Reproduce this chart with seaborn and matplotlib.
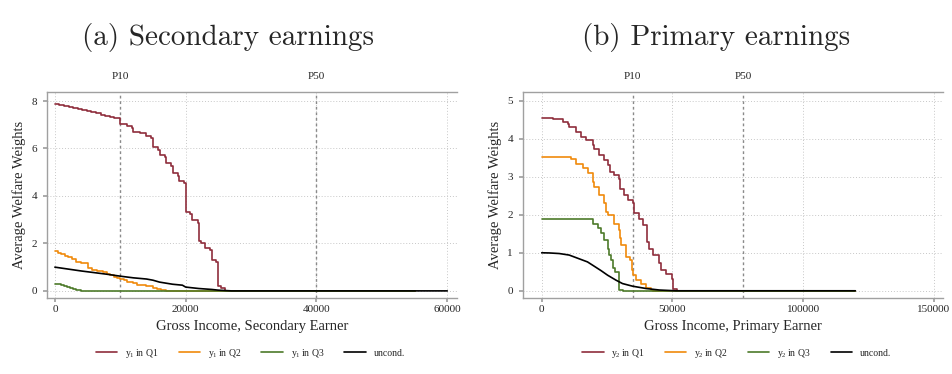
import pandas as pd
import seaborn as sns
import matplotlib.pyplot as plt
from matplotlib.lines import Line2D

# Panel (a): secondary earnings
sec_q1_x = [0, 700, 1400, 2100, 2800, 3500, 4200, 4900, 5600, 6300, 7000, 7700, 8400, 9100, 9900,
            10000, 11000, 11800, 12000, 13000, 14000,
            14700, 15000, 15800, 16000, 16800, 17000, 17800, 18000, 18800, 19000, 19800, 20000,
            20700, 21000, 21900, 22000, 22400, 22900, 23700, 24000, 24700, 25000, 25400, 26000, 55000]
sec_q1_y = [7.87, 7.83, 7.79, 7.74, 7.7, 7.66, 7.62, 7.57, 7.52, 7.48, 7.43, 7.38, 7.33, 7.27, 7.2,
            7.03, 6.95, 6.86, 6.7, 6.64, 6.53,
            6.43, 6.05, 5.94, 5.72, 5.63, 5.37, 5.26, 4.95, 4.85, 4.64, 4.56, 3.33,
            3.26, 3.0, 2.87, 2.11, 2.0, 1.79, 1.74, 1.29, 1.21, 0.2, 0.13, 0.0, 0.0]
sec_q2_x = [0, 500, 1000, 1500, 2000, 2600, 3300, 4000, 5000, 5700, 6400, 7400, 7900, 8400, 9000,
            9500, 10000, 10500, 11000, 12000, 12500, 14000, 15000, 15600, 16300, 17000, 55000]
sec_q2_y = [1.67, 1.61, 1.55, 1.49, 1.43, 1.33, 1.22, 1.18, 0.98, 0.9, 0.84, 0.79, 0.72, 0.65, 0.6,
            0.56, 0.52, 0.45, 0.38, 0.34, 0.25, 0.22, 0.13, 0.08, 0.03, 0.0, 0.0]
sec_q3_x = [0, 500, 1000, 1400, 1800, 2300, 2800, 3200, 3600, 4000, 55000]
sec_q3_y = [0.31, 0.28, 0.25, 0.21, 0.17, 0.12, 0.08, 0.05, 0.02, 0.0, 0.0]
sec_all_x = [0, 2000, 4000, 6000, 8000, 10000, 12000, 14000, 15000, 16000, 18000, 19500, 20000,
             22000, 24000, 25000, 27000, 60000]
sec_all_y = [1.0, 0.92, 0.84, 0.77, 0.7, 0.62, 0.55, 0.5, 0.45, 0.37, 0.28, 0.24, 0.16,
             0.1, 0.06, 0.03, 0.0, 0.0]

# Panel (b): primary earnings
pri_q1_x = [0, 4200, 8000, 9900, 10500, 13000, 15000, 17000, 19500, 20100, 22000, 24000, 25200,
            26000, 27700, 29700, 30100, 31600, 32900, 34800, 35400, 37300, 38600, 40100, 41200,
            42400, 44700, 45600, 47500, 49800, 50300, 51900, 120000]
pri_q1_y = [4.54, 4.51, 4.45, 4.38, 4.3, 4.18, 4.04, 3.96, 3.83, 3.72, 3.57, 3.44, 3.31,
            3.13, 3.04, 2.93, 2.69, 2.52, 2.39, 2.30, 2.04, 1.90, 1.73, 1.29, 1.11,
            0.94, 0.72, 0.54, 0.44, 0.32, 0.04, 0.0, 0.0]
pri_q2_x = [0, 11200, 13100, 15700, 17600, 19500, 20100, 22000, 23900, 24600, 25200, 27800, 29700,
            30000, 30400, 32100, 33900, 34600, 35100, 35900, 38000, 39900, 41800, 42500, 120000]
pri_q2_y = [3.53, 3.46, 3.33, 3.22, 3.09, 2.87, 2.74, 2.52, 2.30, 2.08, 1.99, 1.77, 1.60,
            1.38, 1.20, 0.89, 0.81, 0.54, 0.41, 0.28, 0.18, 0.07, 0.02, 0.0, 0.0]
pri_q3_x = [0, 19700, 21400, 22700, 23900, 25200, 25600, 26500, 27400, 28200, 29500, 29700, 31000, 120000]
pri_q3_y = [1.88, 1.77, 1.64, 1.51, 1.33, 1.11, 0.94, 0.81, 0.59, 0.5, 0.1, 0.02, 0.0, 0.0]
pri_all_x = [0, 3000, 6700, 10500, 14000, 17500, 20000, 22700, 25200, 28400, 30900, 34800, 39900,
             45000, 51300, 120000]
pri_all_y = [1.0, 0.995, 0.98, 0.94, 0.85, 0.76, 0.65, 0.53, 0.41, 0.28, 0.19, 0.12, 0.06,
             0.02, 0.0, 0.0]

sec_pct = {'P10': 10000, 'P50': 40000}
pri_pct = {'P10': 34800, 'P50': 77000}

colors = {'Q1': '#8f2d3c', 'Q2': '#f08a0c', 'Q3': '#4d7a2a', 'uncond.': 'black'}

sns.set_theme(style='white')
plt.rcParams['font.family'] = ['Liberation Serif', 'DejaVu Serif']
plt.rcParams['mathtext.fontset'] = 'custom'
plt.rcParams['mathtext.rm'] = 'Liberation Serif'

fig = plt.figure(figsize=(9.52, 3.74), dpi=100)
ax1 = fig.add_axes([0.0494, 0.2032, 0.4307, 0.5508])
ax2 = fig.add_axes([0.549, 0.2032, 0.4412, 0.5508])


def draw_panel(ax, series, pct, xlim, ylim, xticks, yticks, xlabel):
    for name, xs, ys in series:
        df = pd.DataFrame({'x': xs, 'y': ys})
        sns.lineplot(data=df, x='x', y='y', ax=ax, color=colors[name], lw=1.2,
                     estimator=None, drawstyle='steps-post' if name != 'uncond.' else 'default')
    ax.set_xlim(*xlim)
    ax.set_ylim(*ylim)
    ax.set_xticks(xticks)
    ax.set_yticks(yticks)
    ax.grid(True, linestyle=(0, (1, 2)), color='#c8c8c8', lw=0.7)
    for v in pct.values():
        ax.axvline(v, color='#8a8a8a', lw=1.0, ls=(0, (2, 2)), zorder=1)
    top = ax.secondary_xaxis('top')
    top.set_xticks(list(pct.values()))
    top.set_xticklabels(list(pct.keys()), fontsize=8)
    top.tick_params(length=0, pad=8)
    top.spines['top'].set_visible(False)
    for s in ['top', 'left', 'bottom']:
        ax.spines[s].set_color('#a0a0a0')
        ax.spines[s].set_linewidth(1.0)
    ax.spines['right'].set_visible(False)
    ax.tick_params(axis='both', labelsize=8, length=3, color='#a0a0a0', pad=2,
                   bottom=True, left=True)
    ax.tick_params(axis='y', pad=4)
    ax.set_xlabel(xlabel, fontsize=10.5, labelpad=4)
    ax.set_ylabel('Average Welfare Weights', fontsize=10.5, labelpad=4)


draw_panel(ax1, [('Q1', sec_q1_x, sec_q1_y), ('Q2', sec_q2_x, sec_q2_y),
                 ('Q3', sec_q3_x, sec_q3_y), ('uncond.', sec_all_x, sec_all_y)],
           sec_pct, (-1200, 61500), (-0.3, 8.38), [0, 20000, 40000, 60000], [0, 2, 4, 6, 8],
           'Gross Income, Secondary Earner')
draw_panel(ax2, [('Q1', pri_q1_x, pri_q1_y), ('Q2', pri_q2_x, pri_q2_y),
                 ('Q3', pri_q3_x, pri_q3_y), ('uncond.', pri_all_x, pri_all_y)],
           pri_pct, (-7300, 153400), (-0.19, 5.23), [0, 50000, 100000, 150000], [0, 1, 2, 3, 4, 5],
           'Gross Income, Primary Earner')

for ax, sub, cx in [(ax1, '1', 0.263), (ax2, '2', 0.774)]:
    handles = [Line2D([], [], color=colors[k], lw=1.2) for k in colors]
    labels = [f'$\\mathrm{{y_{sub}\\,in\\ Q{q}}}$' for q in (1, 2, 3)] + ['uncond.']
    fig.legend(handles, labels, loc='center', bbox_to_anchor=(cx, 0.056), ncol=4,
               frameon=False, fontsize=7, handlelength=2.2, columnspacing=2.0, handletextpad=0.8)

fig.text(0.2395, 0.9, '(a) Secondary earnings', fontsize=21, family='cmr10', ha='center', va='center')
fig.text(0.752, 0.9, '(b) Primary earnings', fontsize=21, family='cmr10', ha='center', va='center')

fig.savefig('out.png', dpi=100)
